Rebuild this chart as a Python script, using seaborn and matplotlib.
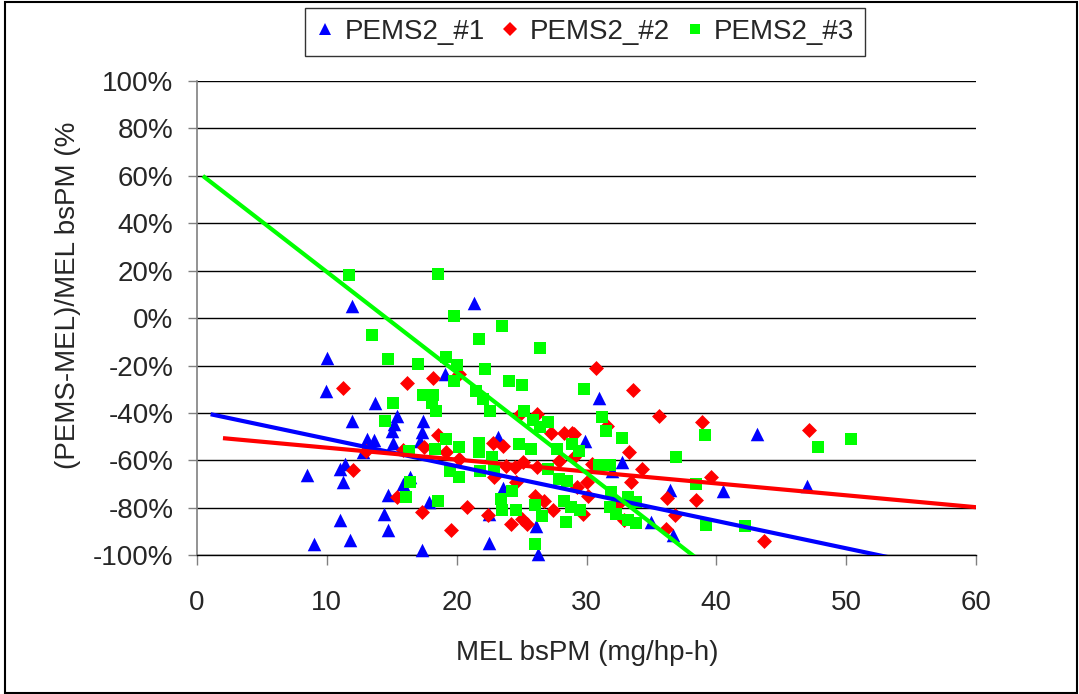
import numpy as np
import pandas as pd
import matplotlib
matplotlib.use("Agg")
import matplotlib.pyplot as plt
import seaborn as sns
from matplotlib.lines import Line2D
from matplotlib.patches import Rectangle

# ---------------- data ----------------
series_names = ["PEMS2_#1", "PEMS2_#2", "PEMS2_#3"]
series_colors = ["#0000FF", "#FF0000", "#00FF00"]
series_markers = ["^", "D", "s"]

s1_x = [11.9, 10.05, 9.9, 13.7, 11.9, 13.1, 13.6, 12.8, 15.0, 11.4, 11.0, 8.5, 11.25,
        14.7, 14.4, 11.0, 14.7, 11.8, 9.0, 21.3, 19.1, 15.4, 15.2, 17.4, 17.3, 17.15,
        15.1, 23.2, 23.6, 26.1, 26.3, 22.5, 17.3, 17.9, 15.9, 16.4, 22.5, 31.0, 43.1,
        29.9, 32.7, 32.0, 40.5, 36.4, 35.0, 36.7, 47.0]
s1_y = [5.0, -17.0, -30.7, -35.8, -43.3, -51.0, -51.4, -56.6, -47.5, -61.5, -63.6, -66.0, -69.2,
        -74.5, -82.6, -85.3, -89.5, -93.7, -95.1, 6.4, -23.7, -41.2, -44.7, -43.3, -48.2, -51.7,
        -52.8, -50.3, -71.6, -87.8, -99.6, -94.8, -97.9, -77.6, -69.9, -67.1, -82.5, -33.5, -48.9,
        -51.7, -60.8, -64.6, -72.7, -72.4, -86.0, -91.6, -70.6]

s2_x = [11.25, 13.05, 12.0, 20.2, 16.2, 18.2, 24.8, 26.2, 27.3, 28.3, 28.9, 18.6, 17.5,
        15.9, 19.2, 20.15, 22.8, 23.6, 23.8, 24.5, 25.1, 26.2, 27.9, 22.9, 24.6, 26.0,
        26.7, 27.4, 24.2, 25.4, 25.0, 20.8, 22.4, 19.6, 17.3, 15.4, 30.7, 33.6, 35.6,
        38.9, 31.6, 29.0, 33.3, 30.4, 34.3, 33.4, 30.0, 39.6, 38.4, 36.2, 32.4, 32.9,
        36.8, 36.1, 43.7, 29.7, 29.3, 30.1, 47.1, 29.0]
s2_y = [-29.5, -56.2, -63.9, -23.4, -27.2, -25.3, -40.8, -40.5, -48.6, -48.6, -48.6, -49.2, -54.2,
        -55.6, -56.6, -59.4, -52.8, -53.8, -62.2, -62.6, -60.8, -62.6, -60.1, -67.1, -69.2, -74.8,
        -77.2, -80.8, -86.7, -86.7, -84.6, -79.7, -83.2, -89.2, -81.8, -75.5, -21.1, -30.4, -41.2,
        -44.0, -45.4, -48.9, -56.6, -61.5, -63.6, -69.2, -69.2, -67.1, -76.6, -75.9, -78.3, -85.3,
        -83.2, -88.8, -94.0, -82.5, -71.3, -74.8, -47.2, -58.5]

s3_x = [11.7, 13.5, 14.7, 15.1, 14.45, 18.6, 19.8, 23.5, 21.7, 26.4, 17.05, 19.2, 20.0,
        19.8, 22.2, 24.0, 25.05, 21.5, 22.0, 17.4, 18.2, 18.1, 18.4, 22.6, 29.8, 25.2,
        25.9, 27.0, 26.4, 19.2, 18.3, 16.3, 20.15, 21.7, 21.7, 22.7, 22.9, 24.8, 25.7,
        27.7, 28.9, 27.0, 19.5, 20.15, 21.8, 27.9, 28.5, 24.3, 23.4, 23.5, 24.6, 26.0,
        28.3, 28.8, 26.6, 28.4, 26.0, 18.6, 16.1, 16.4, 31.2, 31.5, 32.7, 29.4, 36.9,
        31.0, 31.8, 38.4, 39.1, 31.9, 33.2, 33.8, 31.8, 32.3, 33.2, 33.8, 39.2, 42.2,
        29.5, 47.8, 50.4]
s3_y = [18.1, -7.3, -17.4, -35.7, -43.3, 18.6, 1.1, -3.1, -8.9, -12.5, -19.2, -16.4, -19.7,
        -26.5, -21.6, -26.5, -28.3, -30.7, -34.2, -32.4, -32.4, -35.8, -39.1, -39.1, -30.0, -39.1,
        -43.0, -44.0, -46.0, -51.0, -55.0, -56.2, -54.2, -52.8, -56.6, -58.7, -63.6, -53.1, -55.2,
        -55.2, -53.1, -63.6, -64.3, -67.1, -64.3, -67.8, -68.5, -72.7, -76.2, -81.1, -81.1, -78.6,
        -76.9, -79.7, -83.6, -86.0, -95.4, -76.9, -75.5, -69.2, -41.6, -47.5, -50.7, -55.9, -58.4,
        -61.8, -61.8, -69.9, -49.2, -73.4, -75.5, -77.6, -79.7, -82.5, -85.3, -86.4, -87.4, -87.8,
        -81.1, -54.2, -51.0]

# linear trend lines (y = intercept + slope * x)
trend_slope = [-1.155, -0.502, -4.24]
trend_intercept = [-39.3, -49.6, 61.9]
trend_x_start = [1.05, 2.0, 0.45]
trend_x_end = [60.0, 60.0, 60.0]

x_ticks = [0, 10, 20, 30, 40, 50, 60]
y_ticks = [-100, -80, -60, -40, -20, 0, 20, 40, 60, 80, 100]
y_tick_labels = [f"{v}%" for v in y_ticks]
x_label = "MEL bsPM (mg/hp-h)"
y_label = "(PEMS-MEL)/MEL bsPM (%"

# ---------------- styling ----------------
sns.set_style("white")
plt.rcParams["font.family"] = ["Liberation Sans", "DejaVu Sans"]

W, H = 1079, 694
fig = plt.figure(figsize=(W / 100, H / 100), dpi=100)
ax = fig.add_axes([197 / W, 1 - 555.3 / H, (976 - 197) / W, (555.3 - 81) / H])

xs = [s1_x, s2_x, s3_x]
ys = [s1_y, s2_y, s3_y]
sizes = [95, 58, 72]

for i in range(3):
    df = pd.DataFrame({"x": xs[i], "y": ys[i]})
    sns.scatterplot(data=df, x="x", y="y", ax=ax, marker=series_markers[i],
                    color=series_colors[i], s=sizes[i], linewidth=0,
                    clip_on=False, zorder=3 + i, legend=False)

for i in range(3):
    tx = np.array([trend_x_start[i], trend_x_end[i]])
    ty = trend_intercept[i] + trend_slope[i] * tx
    ax.plot(tx, ty, color=series_colors[i], lw=3.0, zorder=7, solid_capstyle="butt")

ax.set_xlim(0, 60)
ax.set_ylim(-100, 100)
ax.set_xticks(x_ticks)
ax.set_xticklabels([str(v) for v in x_ticks])
ax.set_yticks(y_ticks)
ax.set_yticklabels(y_tick_labels)
ax.set_xlabel("")
ax.set_ylabel("")

ax.yaxis.grid(True, color="black", lw=1.0)
ax.xaxis.grid(False)
ax.set_axisbelow(True)
for s in ["top", "right"]:
    ax.spines[s].set_visible(False)
ax.spines["left"].set_color("#808080")
ax.spines["left"].set_linewidth(1.2)
ax.spines["bottom"].set_color("black")
ax.spines["bottom"].set_linewidth(1.0)

ax.tick_params(axis="y", which="major", direction="out", length=6.5, width=1,
               color="#808080", pad=10.5, labelsize=20, left=True)
ax.tick_params(axis="x", which="major", direction="out", length=7, width=1,
               color="#808080", pad=18, labelsize=20, bottom=True)

fig.text(587 / W, 1 - 653 / H, x_label, ha="center", va="center", fontsize=20)
fig.text(68 / W, 1 - 295 / H, y_label, ha="center", va="center", fontsize=20,
         rotation=90)

handles = [Line2D([], [], linestyle="none", marker=series_markers[0], color=series_colors[0], markersize=9, markeredgewidth=0),
           Line2D([], [], linestyle="none", marker=series_markers[1], color=series_colors[1], markersize=7, markeredgewidth=0),
           Line2D([], [], linestyle="none", marker=series_markers[2], color=series_colors[2], markersize=7, markeredgewidth=0)]
leg = fig.legend(handles, series_names, loc="center", bbox_to_anchor=(585 / W, 1 - 32 / H),
                 ncol=3, frameon=True, fancybox=False, edgecolor="black", fontsize=20,
                 handlelength=0.7, handletextpad=0.35, columnspacing=0.55, borderpad=0.4,
                 borderaxespad=0)
leg.get_frame().set_linewidth(1.0)

fig.patches.append(Rectangle((5 / W, 1.5 / H), (1077 - 5) / W, (692 - 1.5) / H,
                             transform=fig.transFigure, fill=False, lw=1.5,
                             ec="black", zorder=10))

fig.savefig("out.png", dpi=100)
